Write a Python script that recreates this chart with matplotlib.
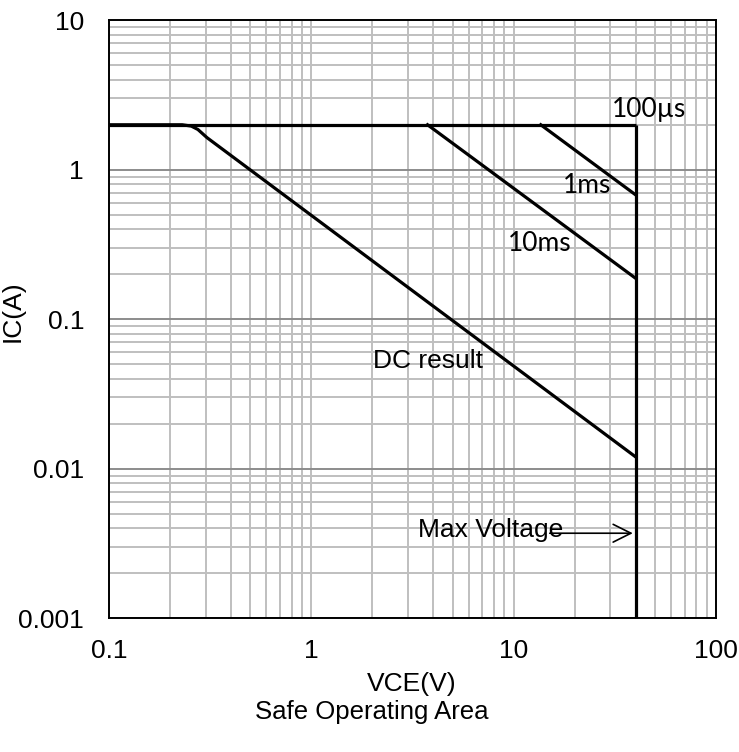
import numpy as np
import matplotlib.pyplot as plt
from matplotlib import font_manager
from matplotlib.ticker import LogLocator, FixedLocator, NullFormatter

v_100us = [0.1, 40]
i_100us = [2, 2]
v_1ms = [13.6, 40]
i_1ms = [2, 0.68]
v_10ms = [3.75, 40]
i_10ms = [2, 0.188]
v_dc = [0.1, 0.23, 0.255, 0.275, 0.305, 40]
i_dc = [2, 2, 1.96, 1.86, 1.64, 0.012]
v_max = [40, 40]
i_max = [0.001, 2]

xticks = [0.1, 1, 10, 100]
xticklabels = ['0.1', '1', '10', '100']
yticks = [0.001, 0.01, 0.1, 1, 10]
yticklabels = ['0.001', '0.01', '0.1', '1', '10']

plt.rcParams['font.family'] = ['Liberation Sans', 'DejaVu Sans']
fs = 19

# el titulo del original se ve angosto
nombres = {f.name for f in font_manager.fontManager.ttflist}
if 'Liberation Sans Narrow' in nombres:
    titfont = dict(family=['Liberation Sans Narrow', 'Liberation Sans'], fontsize=22)
else:
    titfont = dict(family=['Liberation Sans', 'DejaVu Sans'], fontsize=18.5)

fig = plt.figure(figsize=(7.39, 7.52), dpi=100)
ax = fig.add_axes([0.1475, 0.178, 0.8215, 0.795])

ax.set_xscale('log')
ax.set_yscale('log')
ax.set_xlim(0.1, 100)
ax.set_ylim(0.001, 10)

# grilla
ax.xaxis.set_major_locator(FixedLocator(xticks))
ax.yaxis.set_major_locator(FixedLocator(yticks))
ax.xaxis.set_minor_locator(LogLocator(base=10, subs=np.arange(2, 10)))
ax.yaxis.set_minor_locator(LogLocator(base=10, subs=np.arange(2, 10)))
ax.xaxis.set_minor_formatter(NullFormatter())
ax.yaxis.set_minor_formatter(NullFormatter())
ax.grid(which='minor', color='#bfbfbf', lw=1.4)
ax.grid(which='major', axis='x', color='#bfbfbf', lw=1.4)
ax.grid(which='major', axis='y', color='#8c8c8c', lw=1.4)
ax.set_axisbelow(True)

ax.set_xticklabels(xticklabels)
ax.set_yticklabels(yticklabels)
ax.tick_params(which='both', length=0, labelsize=fs)
ax.tick_params(axis='x', pad=15)
ax.tick_params(axis='y', pad=18)
for s in ax.spines.values():
    s.set_linewidth(1.4)
    s.set_color('black')

lw = 2.3
ax.plot(v_100us, i_100us, color='black', lw=lw, solid_capstyle='butt')
ax.plot(v_1ms, i_1ms, color='black', lw=lw)
ax.plot(v_10ms, i_10ms, color='black', lw=lw)
ax.plot(v_dc, i_dc, color='black', lw=lw)
ax.plot(v_max, i_max, color='black', lw=lw, solid_capstyle='butt')

# etiquetas
lab = dict(family=['Lato', 'DejaVu Sans'], fontsize=fs, ha='center', va='center')
ax.text(46.6, 2.54, '100µs', **lab)
ax.text(23.0, 0.787, '1ms', **lab)
ax.text(13.4, 0.322, '10ms', **lab)
ax.text(3.75, 0.0524, 'DC result', fontsize=fs, ha='center', va='center')
ax.text(7.69, 0.00388, 'Max Voltage', fontsize=fs, ha='center', va='center')
ax.annotate('', xy=(40, 0.0037), xytext=(14.6, 0.0037),
            arrowprops=dict(arrowstyle='->', color='black', lw=1.2, mutation_scale=32))

fig.text(412 / 739, 1 - 684 / 752, 'VCE(V)', fontsize=fs, ha='center', va='center')
fig.text(13 / 739, 1 - 311 / 752, 'IC(A)', fontsize=fs, ha='center', va='center', rotation=90)
fig.text(372 / 739, 1 - 712 / 752, 'Safe Operating Area', ha='center', va='center', **titfont)

plt.savefig('out.png', dpi=100)
plt.close(fig)
